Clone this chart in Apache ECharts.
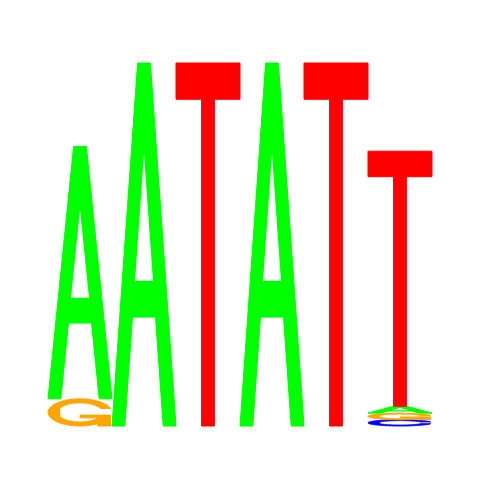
<!DOCTYPE html>
<html>
<head>
<meta charset="utf-8">
<script src="https://cdn.jsdelivr.net/npm/echarts@6/dist/echarts.min.js"></script>
<style>
html,body{margin:0;padding:0;background:#fff;}
#c{width:480px;height:480px;}
</style>
</head>
<body>
<div id="c"></div>
<script>
// Sequence logo: information (bits) per letter at each position
const positions = [1, 2, 3, 4, 5, 6];
const bitsA = [1.39, 2.0, 0, 2.0, 0, 0.038];
const bitsC = [0, 0, 0, 0, 0, 0.035];
const bitsG = [0.15, 0, 0, 0, 0, 0.036];
const bitsT = [0, 0, 2.0, 0, 2.0, 1.405];

const letters = ['A', 'C', 'G', 'T'];
const letterColors = ['#00FF00', '#0000FF', '#FFA500', '#FF0000'];
const bitsByLetter = [bitsA, bitsC, bitsG, bitsT];

// Build stacked data: smallest at bottom
const stackData = [];
positions.forEach((p, i) => {
  const items = letters.map((l, li) => ({ li, v: bitsByLetter[li][i] }))
    .filter(d => d.v > 0)
    .sort((a, b) => a.v - b.v);
  let y = 0;
  items.forEach(d => {
    stackData.push([p, y, y + d.v, d.li]);
    y += d.v;
  });
});

// Glyph outlines in unit box (x right, y up)
const glyphA = [[0,0],[0.4,1],[0.6,1],[1,0],[0.8,0],[0.68,0.3],[0.32,0.3],[0.2,0]];
const holeA = [[0.36,0.4],[0.5,0.75],[0.64,0.4]];
const glyphT = [[0,1],[1,1],[1,0.9],[0.6,0.9],[0.6,0],[0.4,0],[0.4,0.9],[0,0.9]];
function ringGlyph() {
  const n = 60;
  const angs = [];
  for (let i = 0; i < n; i++) angs.push(0.3 + Math.PI/2 + (Math.PI/2 - 0.3) * i / (n-1));
  for (let i = 1; i < n; i++) angs.push(Math.PI + (Math.PI/2) * i / (n-1));
  const outerLow = angs.map(a => [0.5 + 0.5*Math.sin(a), 0.5 + 0.5*Math.cos(a)]);
  const ymax = outerLow[0][1];
  let innerLow = angs.map(a => [0.5 + 0.35*Math.sin(a), 0.5 + 0.35*Math.cos(a)]).filter(p => p[1] <= ymax);
  const xStart = 0.5 + Math.sqrt(0.35*0.35 - (ymax-0.5)*(ymax-0.5));
  innerLow = [[xStart, ymax]].concat(innerLow);
  const outer = outerLow.concat(outerLow.slice().reverse().map(p => [p[0], 1 - p[1]]));
  const inner = innerLow.concat(innerLow.slice().reverse().map(p => [p[0], 1 - p[1]]));
  return { poly: outer.concat(inner.slice().reverse()), r1: outerLow[0][0] };
}
const ring = ringGlyph();
const gBar = [[ring.r1,0.4],[0.5,0.4],[0.5,0.3],[ring.r1-0.2,0.3],[ring.r1-0.2,0],[ring.r1,0]];

const chart = echarts.init(document.getElementById('c'), null, { renderer: 'canvas' });
chart.setOption({
  backgroundColor: '#ffffff',
  animation: false,
  grid: { left: 48, right: 48, top: 63, bottom: 54 },
  xAxis: { type: 'value', min: 0.5, max: 6.5, show: false },
  yAxis: { type: 'value', min: 0, max: 2, show: false },
  series: [{
    type: 'custom',
    data: stackData,
    encode: { x: 0, y: [1, 2] },
    renderItem: function (params, api) {
      const pos = api.value(0), y0 = api.value(1), y1 = api.value(2), li = api.value(3);
      const p0 = api.coord([pos - 0.5, y0]);
      const p1 = api.coord([pos + 0.5, y1]);
      const x = p0[0], w = p1[0] - p0[0], yb = p0[1], h = p0[1] - p1[1];
      const map = pts => pts.map(q => [x + q[0]*w, yb - q[1]*h]);
      const col = letterColors[li];
      const st = { fill: col, stroke: col, lineWidth: 1 };
      const ch = letters[li];
      const children = [];
      if (ch === 'A') {
        children.push({ type: 'polygon', shape: { points: map(glyphA) }, style: st });
        children.push({ type: 'polygon', shape: { points: map(holeA) }, style: { fill: '#ffffff' } });
      } else if (ch === 'T') {
        children.push({ type: 'polygon', shape: { points: map(glyphT) }, style: st });
      } else if (ch === 'C') {
        children.push({ type: 'polygon', shape: { points: map(ring.poly) }, style: st });
      } else if (ch === 'G') {
        children.push({ type: 'polygon', shape: { points: map(ring.poly) }, style: st });
        children.push({ type: 'polygon', shape: { points: map(gBar) }, style: st });
      }
      return { type: 'group', children: children };
    }
  }]
});
</script>
</body>
</html>
